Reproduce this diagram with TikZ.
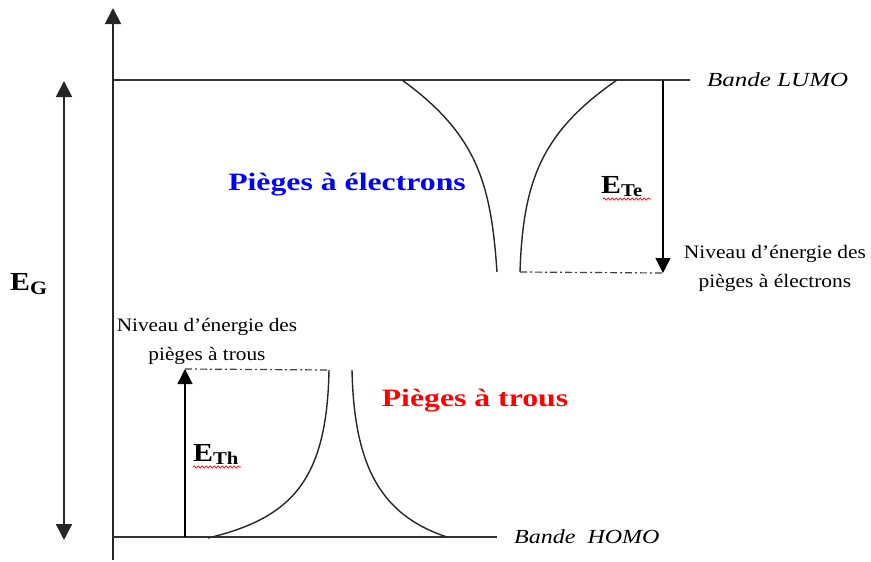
\documentclass[tikz,border=0pt]{standalone}
\usepackage{fontspec}
\setmainfont{Liberation Serif}
\usetikzlibrary{arrows.meta,decorations.pathmorphing}
\newcommand{\wide}[2]{\scalebox{#1}[1]{#2}}
\begin{document}
\begin{tikzpicture}[x=1pt,y=-1pt,
  axis/.style={line width=1.8pt,draw=black!85},
  band/.style={line width=1.8pt,draw=black!80},
  trap/.style={line width=1.4pt,draw=black!85},
  level/.style={line width=1.2pt,draw=black!75,dash pattern=on 7pt off 3pt on 2pt off 3pt},
  bigtip/.style={-{Triangle[length=16pt,width=16pt]}},
  smalltip/.style={-{Triangle[length=15pt,width=15pt]}},
  note/.style={font=\fontsize{19}{28}\selectfont,align=center,inner sep=0pt},
  bandlabel/.style={font=\fontsize{20}{24}\selectfont\itshape,inner sep=0pt},
  energy/.style={font=\fontsize{26}{28}\selectfont\bfseries,inner sep=0pt},
  title/.style={font=\fontsize{25}{28}\selectfont\bfseries,inner sep=0pt},
  squiggle/.style={draw=red,line width=0.7pt,decorate,decoration={snake,amplitude=1.2pt,segment length=4pt}}
]
\useasboundingbox (0,0) rectangle (871,562);
% axes
\coordinate (ax0) at (113,560);
\coordinate (ax1) at (113,8);
\draw[axis,bigtip] (ax0) -- (ax1);
\coordinate (eg0) at (64,540);
\coordinate (eg1) at (64,81);
\draw[axis,{Triangle[length=16pt,width=16pt]}-{Triangle[length=16pt,width=16pt]}] (eg0) -- (eg1);
% bands
\coordinate (lumoL) at (113,80);
\coordinate (lumoR) at (690,80);
\coordinate (homoL) at (113,537);
\coordinate (homoR) at (497,537);
\draw[band] (lumoL) -- (lumoR);
\draw[band] (homoL) -- (homoR);
\node[bandlabel,anchor=west] (lumo) at (707,80) {\wide{1.25}{Bande LUMO}};
\node[bandlabel,anchor=west] (homo) at (514,537) {\wide{1.2}{Bande\ \ HOMO}};
% electron traps
\coordinate (ea) at (402,80);
\coordinate (eb) at (497,272);
\coordinate (ec) at (617,80);
\coordinate (ed) at (520,272);
\draw[trap] (ea) .. controls (478,135) and (491,185) .. (eb);
\draw[trap] (ec) .. controls (542,132) and (523,180) .. (ed);
\coordinate (eTop) at (663,80);
\coordinate (eBot) at (663,273);
\draw[level] (ed) -- (eBot);
\draw[line width=1.3pt,smalltip] (eTop) -- (eBot);
% hole traps
\coordinate (ha) at (208,538);
\coordinate (hb) at (329,370);
\coordinate (hc) at (352,370);
\coordinate (hd) at (447,537);
\draw[trap] (ha) .. controls (292,518) and (327,480) .. (hb);
\draw[trap] (hc) .. controls (354,465) and (380,515) .. (hd);
\coordinate (hBot) at (185,537);
\coordinate (hTop) at (185,369);
\draw[level] (hTop) -- (hb);
\draw[line width=1.3pt,smalltip] (hBot) -- (hTop);
% titles
\node[title,text=blue] (pe) at (347,185) {\wide{1.27}{Pièges à électrons}};
\node[title,text=red] (ph) at (475,401) {\wide{1.27}{Pièges à trous}};
% energies
\node[energy,anchor=base west] (eG) at (10,290) {\wide{1.15}{E\textsubscript{\fontsize{19}{20}\selectfont G}}};
\node[energy,anchor=base west] (eTe) at (601,193) {\wide{1.15}{E\textsubscript{\fontsize{18}{20}\selectfont Te}}};
\node[energy,anchor=base west] (eTh) at (193,461) {\wide{1.15}{E\textsubscript{\fontsize{18}{20}\selectfont Th}}};
\coordinate (s1a) at (603,199);
\coordinate (s1b) at (651,199);
\draw[squiggle] (s1a) -- (s1b);
\coordinate (s2a) at (193,467);
\coordinate (s2b) at (241,467);
\draw[squiggle] (s2a) -- (s2b);
% notes
\node[note] (ne) at (775,267) {\wide{1.13}{\begin{tabular}{@{}c@{}}Niveau d’énergie des\\[1pt]pièges à électrons\end{tabular}}};
\node[note] (nh) at (207,340) {\wide{1.12}{\begin{tabular}{@{}c@{}}Niveau d’énergie des\\[1pt]pièges à trous\end{tabular}}};
\end{tikzpicture}
\end{document}
